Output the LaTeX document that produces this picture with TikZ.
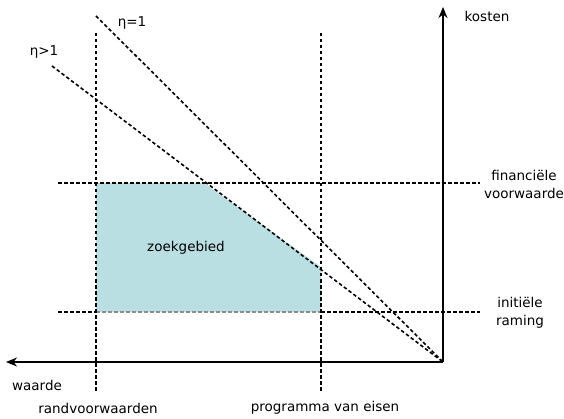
\documentclass[tikz,border=0pt]{standalone}
\usepackage{fontspec}
\setmainfont{DejaVu Sans}
\usetikzlibrary{arrows.meta}
\definecolor{searchfill}{RGB}{185,223,227}
\begin{document}
\begin{tikzpicture}[x=1pt,y=-1pt,
  axis/.style={line width=2pt,-{Stealth[length=11pt,width=9pt,inset=3.5pt]}},
  guide/.style={line width=1.6pt,dash pattern=on 3.5pt off 2.5pt},
  softguide/.style={guide,draw=black!45},
  lbl/.style={font=\fontsize{13.5}{18}\selectfont,inner sep=0pt,align=center}]
  \useasboundingbox (0,0) rectangle (564,419);

  % corner of the axes and the ends of the guide lines
  \coordinate (O) at (443,362);
  \coordinate (ytip) at (443,7);
  \coordinate (xtip) at (6,362);
  \coordinate (rvT) at (96,33);   \coordinate (rvB) at (96,392);
  \coordinate (peT) at (321,33);  \coordinate (peB) at (321,392);
  \coordinate (fvL) at (58,183);  \coordinate (fvR) at (480,183);
  \coordinate (irL) at (58,312);  \coordinate (irR) at (480,312);
  \coordinate (e1) at (96,16);
  \coordinate (e2) at (52,66);

  % search area
  \fill[searchfill] (96,183) -- (204,183) -- (321,267) -- (321,312) -- (96,312) -- cycle;

  % guide lines
  \draw[guide] (irL) -- (96,312);
  \draw[softguide] (96,312) -- (321,312);
  \draw[guide] (321,312) -- (irR);
  \draw[guide] (fvL) -- (fvR);
  \draw[guide] (rvT) -- (rvB);
  \draw[guide] (peT) -- (peB);
  \draw[guide] (e1) -- (O);
  \draw[guide] (e2) -- (O);

  % axes
  \draw[axis] (O) -- (ytip);
  \draw[axis] (O) -- (xtip);

  % labels
  \node[lbl] (kosten) at (487,16) {kosten};
  \node[lbl] (waarde) at (37,385) {waarde};
  \node[lbl] (fin) at (524,184) {financiële\\voorwaarde};
  \node[lbl] (init) at (520,313) {initiële\\raming};
  \node[lbl] (rand) at (98,408) {randvoorwaarden};
  \node[lbl] (pve) at (325,408) {programma van eisen};
  \node[lbl] (zoek) at (186,248) {zoekgebied};
  \node[lbl] (eta1) at (132,23) {η=1};
  \node[lbl] (eta2) at (44,52) {η>1};
\end{tikzpicture}
\end{document}
